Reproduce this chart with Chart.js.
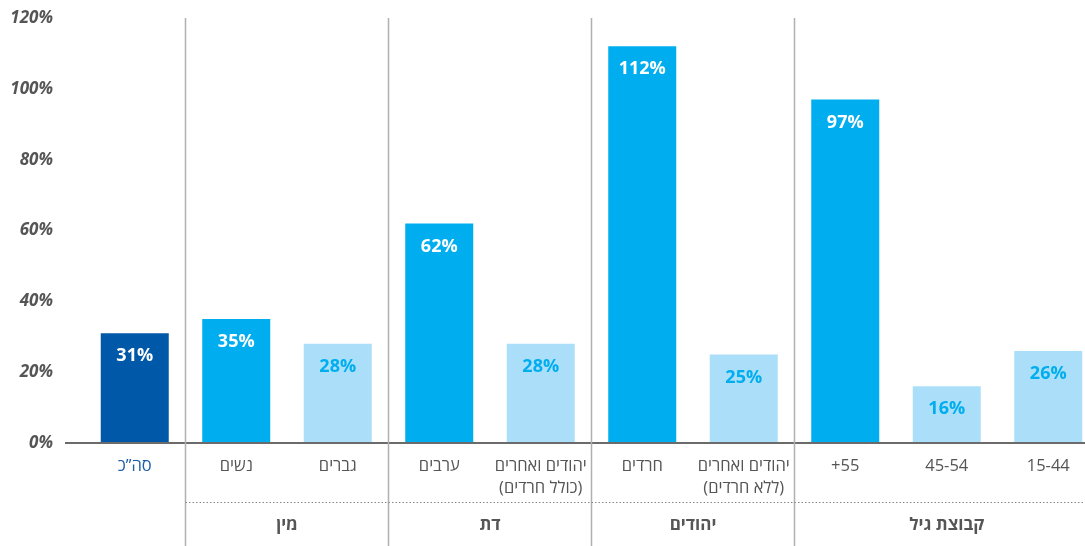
<!DOCTYPE html>
<html>
<head>
<meta charset="utf-8">
<script src="https://cdn.jsdelivr.net/npm/chart.js@4"></script>
<style>
  body { margin: 0; overflow: hidden; background: #fff; }
  #wrap { width: 1099px; height: 546px; }
</style>
</head>
<body>
<div id="wrap"><canvas id="chart" dir="rtl"></canvas></div>
<script>
const categories = [
  'סה”כ', 'נשים', 'גברים', 'ערבים', ['יהודים ואחרים', '(כולל חרדים)'],
  'חרדים', ['יהודים ואחרים', '(ללא חרדים)'], '55+', '45-54', '15-44'
];
const values = [31, 35, 28, 62, 28, 112, 25, 97, 16, 26];
const yTicks = [0, 20, 40, 60, 80, 100, 120];
// groups: label, first index, last index
const groups = [
  ['מין', 1, 2],
  ['דת', 3, 4],
  ['יהודים', 5, 6],
  ['קבוצת גיל', 7, 9]
];

const dark = '#0058a8', bright = '#00aeef', light = '#abdff9';
const barColors = [dark, bright, light, bright, light, bright, light, bright, light, light];
const labelColors = barColors.map(c => c === light ? bright : '#fff');
const textFont = "'Open Sans', 'DejaVu Sans', sans-serif";

const extras = {
  id: 'extras',
  afterDatasetsDraw(chart) {
    const ctx = chart.ctx;
    const area = chart.chartArea;
    const x = chart.scales.x;
    const meta = chart.getDatasetMeta(0);
    ctx.save();
    // bar value labels
    ctx.font = "bold 18px " + textFont;
    ctx.textAlign = 'center';
    ctx.textBaseline = 'middle';
    meta.data.forEach((bar, i) => {
      ctx.fillStyle = labelColors[i];
      ctx.fillText(values[i] + '%', bar.x, bar.y + 23);
    });
    // baseline
    ctx.strokeStyle = '#6b6b6b';
    ctx.lineWidth = 2;
    ctx.beginPath();
    ctx.moveTo(65, area.bottom);
    ctx.lineTo(area.right, area.bottom);
    ctx.stroke();
    // group dividers
    const half = (x.getPixelForValue(1) - x.getPixelForValue(0)) / 2;
    ctx.strokeStyle = '#b0b0b0';
    ctx.lineWidth = 1.5;
    groups.forEach(g => {
      const left = x.getPixelForValue(g[1]) - half;
      ctx.beginPath();
      ctx.moveTo(left, area.top);
      ctx.lineTo(left, chart.height);
      ctx.stroke();
    });
    // dotted line
    const startX = x.getPixelForValue(1) - half;
    ctx.strokeStyle = '#888';
    ctx.lineWidth = 1;
    ctx.setLineDash([1.5, 2]);
    ctx.beginPath();
    ctx.moveTo(startX, 502.5);
    ctx.lineTo(area.right, 502.5);
    ctx.stroke();
    ctx.setLineDash([]);
    // group labels
    ctx.font = "bold 17px " + textFont;
    ctx.fillStyle = '#555';
    groups.forEach(g => {
      const cx = (x.getPixelForValue(g[1]) + x.getPixelForValue(g[2])) / 2;
      ctx.fillText(g[0], cx, 525);
    });
    ctx.restore();
  }
};

new Chart(document.getElementById('chart'), {
  type: 'bar',
  data: {
    labels: categories,
    datasets: [{
      data: values,
      backgroundColor: barColors,
      borderWidth: 0,
      categoryPercentage: 1,
      barPercentage: 0.67
    }]
  },
  options: {
    responsive: true,
    maintainAspectRatio: false,
    animation: false,
    layout: { padding: { top: 18, right: 0, left: 0, bottom: 0 } },
    plugins: {
      legend: { display: false },
      tooltip: { enabled: false }
    },
    scales: {
      x: {
        grid: { display: false, drawTicks: false },
        border: { display: false },
        afterFit(s) { s.height = 103; s.paddingLeft = 0; s.paddingRight = 0; },
        ticks: {
          padding: 12,
          maxRotation: 0,
          autoSkip: false,
          font: { size: 16.5, family: textFont, lineHeight: 1.35 },
          color: ctx => ctx.index === 0 ? '#1a5ea8' : '#555'
        }
      },
      y: {
        min: 0,
        max: 120,
        grid: { display: false, drawTicks: false },
        border: { display: false },
        afterFit(s) { s.width = 84; s.paddingTop = 0; s.paddingBottom = 0; },
        afterBuildTicks(s) { s.ticks = yTicks.map(v => ({ value: v })); },
        ticks: {
          padding: 31,
          font: { size: 17, weight: 'bold', style: 'italic', family: textFont },
          color: '#555',
          callback: v => v + '%'
        }
      }
    }
  },
  plugins: [extras]
});
</script>
</body>
</html>
